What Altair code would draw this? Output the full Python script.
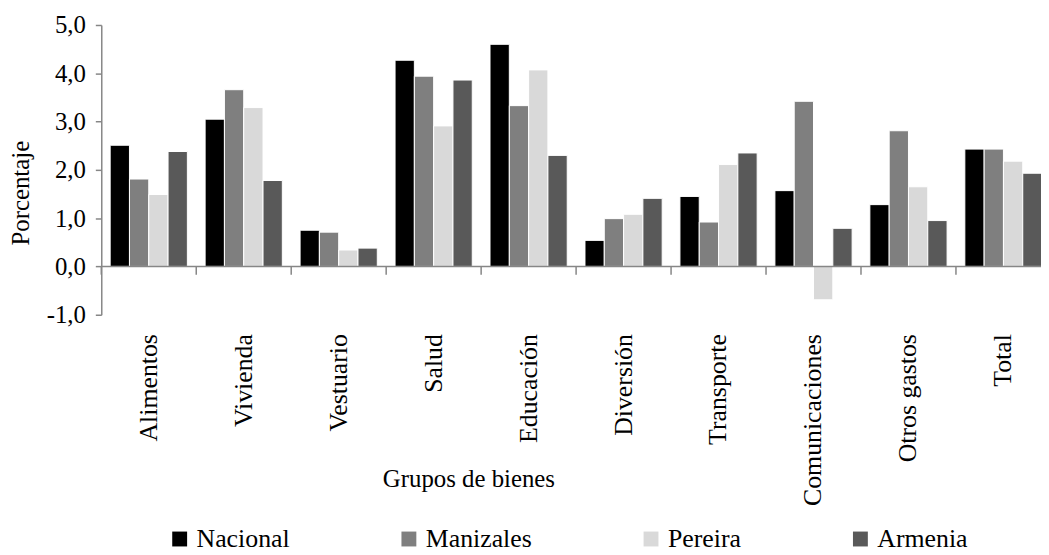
import altair as alt
import pandas as pd

grupos = ["Alimentos", "Vivienda", "Vestuario", "Salud", "Educación", "Diversión",
          "Transporte", "Comunicaciones", "Otros gastos", "Total"]
series = ["Nacional", "Manizales", "Pereira", "Armenia"]
nacional = [2.51, 3.05, 0.75, 4.27, 4.60, 0.54, 1.45, 1.57, 1.28, 2.43]
manizales = [1.81, 3.66, 0.71, 3.94, 3.33, 0.99, 0.92, 3.42, 2.81, 2.43]
pereira = [1.49, 3.29, 0.34, 2.91, 4.07, 1.08, 2.11, -0.69, 1.65, 2.18]
armenia = [2.38, 1.78, 0.38, 3.86, 2.30, 1.41, 2.35, 0.79, 0.95, 1.93]
colores = ["#000000", "#7f7f7f", "#d9d9d9", "#595959"]
y_ticks = [-1, 0, 1, 2, 3, 4, 5]

rows = []
for s, vals in zip(series, [nacional, manizales, pereira, armenia]):
    for g, v in zip(grupos, vals):
        rows.append({"grupo": g, "serie": s, "valor": v})
df = pd.DataFrame(rows)

FONT = "Times New Roman, Liberation Serif, serif"
GRAY = "#868686"

xscale = alt.Scale(domain=grupos, range=[0, 957], paddingInner=0, paddingOuter=0)
yscale = alt.Scale(domain=[-1, 5], nice=False, zero=False)

x_axis = alt.Axis(title="Grupos de bienes", labelAngle=270, domain=False, ticks=False,
                  labelPadding=19, labelFontSize=26,
                  titleFontSize=25, titleX=370, titleY=165, titleBaseline="middle",
                  titleAlign="center")
y_axis = alt.Axis(values=y_ticks, grid=False,
                  labelExpr="replace(replace(format(datum.value, '.1f'), '.', ','), '\u2212', '-')",
                  title="Porcentaje", domainColor=GRAY, domainWidth=1.5,
                  tickColor=GRAY, tickWidth=1.5, tickSize=6,
                  labelFontSize=25, labelPadding=10,
                  titleFontSize=25, titleX=-68, titleY=169, titleAlign="center")

bars = alt.Chart(df).mark_bar(stroke="white", strokeWidth=1).encode(
    x=alt.X("grupo:N", sort=grupos, scale=xscale, axis=x_axis),
    xOffset=alt.XOffset("serie:N", sort=series,
                        scale=alt.Scale(domain=series, paddingOuter=0.46, paddingInner=0)),
    y=alt.Y("valor:Q", scale=yscale, axis=y_axis),
    color=alt.Color("serie:N", sort=series, scale=alt.Scale(domain=series, range=colores),
                    legend=alt.Legend(title=None, orient="none", legendX=66, legendY=505,
                                      direction="horizontal", columns=4, symbolType="square",
                                      symbolSize=225, symbolStrokeWidth=0,
                                      labelFont=FONT, labelFontSize=26, labelOffset=4,
                                      labelColor="black", labelFontWeight="normal",
                                      columnPadding=107, padding=0)),
)

zero = alt.Chart(pd.DataFrame({"v": [0]})).mark_rule(color=GRAY, strokeWidth=1.5).encode(
    y=alt.datum(0)
)

bounds = alt.Chart(pd.DataFrame({"grupo": grupos})).mark_rule(color=GRAY, strokeWidth=1.5).encode(
    x=alt.X("grupo:N", sort=grupos, scale=xscale, bandPosition=0, title="Grupos de bienes"),
    y=alt.datum(0),
    y2=alt.datum(-0.17),
)

chart = alt.layer(bars, zero, bounds).properties(
    width=947, height=292,
    padding={"left": 94, "top": 15, "right": 0, "bottom": 240},
    autosize=alt.AutoSizeParams(type="none"),
).configure(font=FONT).configure_view(stroke=None).configure_axis(
    labelFont=FONT, titleFont=FONT, labelColor="black", titleColor="black",
    titleFontWeight="normal", grid=False
).configure_legend(
    labelFont=FONT, labelColor="black"
)

chart.save("out.html", embed_options={"renderer": "svg", "actions": False})
